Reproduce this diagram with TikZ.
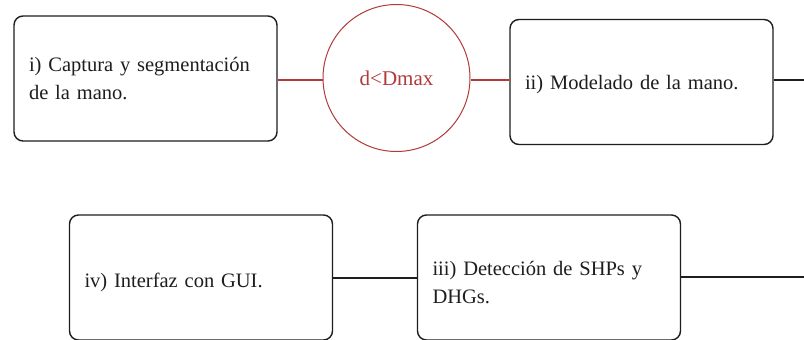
\documentclass[tikz,border=0pt]{standalone}
\usepackage{fontspec}
\setmainfont{Liberation Serif}
\definecolor{stepred}{HTML}{B23A3A}
\definecolor{ink}{HTML}{1E1E1E}
\begin{document}
\begin{tikzpicture}[x=1pt,y=-1pt,
  stepbox/.style={draw=ink, line width=1.4pt, rounded corners=9pt,
    minimum width=263pt, minimum height=125pt, text width=233pt,
    align=left, inner sep=15pt, text=ink,
    font=\fontsize{20.5}{28}\selectfont},
  % a taller first line pushes the text a little below the box centre
  lower/.style={execute at begin node={\rule{0pt}{#1}}},
  cond/.style={circle, draw=stepred, line width=1pt, minimum size=147pt,
    inner sep=0pt, text=stepred, font=\fontsize{21}{26}\selectfont},
  redlink/.style={draw=stepred, line width=1.2pt},
  link/.style={draw=ink, line width=1.4pt}]
\useasboundingbox (0,0) rectangle (804,340);
\fill[white] (0,0) rectangle (804,340);

\node[stepbox] (s1) at (145.5,78.5) {i) Captura y segmentación\\de la mano.};
\node[cond] (c) at (396.5,78) {d<Dmax};
\node[stepbox, lower=20pt] (s2) at (641.5,82) {ii) Modelado de la mano.};
\node[stepbox, lower=24pt] (s4) at (201,277.5) {iv) Interfaz con GUI.};
\node[stepbox, lower=24pt] (s3) at (549,277.5) {iii) Detección de SHPs y\\DHGs.};

\coordinate (e2) at (804,80);
\coordinate (e3) at (804,277);

\draw[redlink] (s1.east |- 0,80) -- (c.west |- 0,80);
\draw[redlink] (c.east |- 0,80) -- (s2.west |- 0,80);
\draw[link] (s2.east |- e2) -- (e2);
\draw[link] (s4.east |- 0,278) -- (s3.west |- 0,278);
\draw[link] (s3.east |- e3) -- (e3);
\end{tikzpicture}
\end{document}
